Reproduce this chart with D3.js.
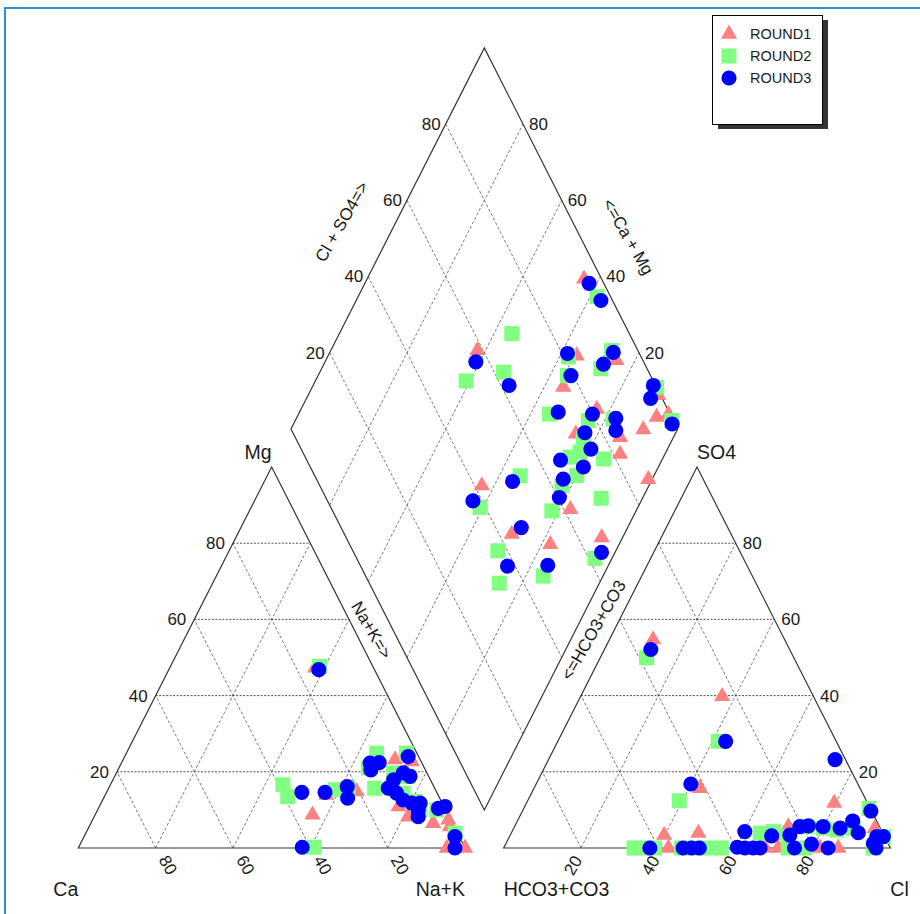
<!DOCTYPE html>
<html><head><meta charset="utf-8">
<script src="https://cdn.jsdelivr.net/npm/d3@7"></script>
<style>
body{margin:0;background:#fff}
svg{display:block}
text{font-family:"Liberation Sans",Arial,Helvetica,sans-serif;fill:#1a1a1a}
</style>
</head><body><svg id="c" width="920" height="914"></svg>
<script>
// ---------- DATA (percent values) ----------
const gridTicks = [20, 40, 60, 80];
const roundNames = ["ROUND1", "ROUND2", "ROUND3"];

// cation triangle: [Mg %, Na+K %]  (Ca = 100 - Mg - Na+K)
const cation1 = [[47.3,37.6],[8.7,56.2],[13.9,57.2],[14.8,64.6],[23.2,70.3],[22.7,74.9],[10.9,77.4],[8.2,81.2],[6.5,88.5],[7.4,92.0],[0,95.3],[0,100],[5.6,93.3],[15.7,73.6]];
const cation2 = [[47.7,38.5],[16.6,44.6],[13.5,47.4],[0.2,60.8],[15.3,58.8],[15.7,61.9],[24.9,64.7],[21.0,64.5],[15.7,68.8],[24.9,72.4],[18.8,75.9],[12.2,81.0],[10.0,83.4],[10.0,87.7],[3.9,95.5],[19.7,71.7],[14.4,76.8]];
const cation3 = [[46.8,38.8],[14.6,50.5],[14.6,56.5],[16.1,61.5],[13.1,63.1],[22.3,64.3],[22.4,66.6],[20.5,65.4],[24.0,73.3],[19.7,74.2],[18.8,76.4],[17.9,72.6],[15.7,72.3],[14.4,75.1],[12.6,77.7],[11.8,80.3],[11.8,82.5],[8.2,83.8],[10.0,82.9],[10.4,87.9],[10.9,89.4],[3.0,95.9],[0,97.4],[0.2,57.8]];

// anion triangle: [SO4 %, Cl %]  (HCO3+CO3 = 100 - SO4 - Cl)
const anion1 = [[54.7,11.3],[39.8,36.6],[15.7,42.9],[11.8,79.6],[3.4,39.8],[0,42.6],[3.9,48.4],[0,67.6],[0,71.0],[5.6,70.8],[0,81.8],[0,86.5],[5.2,93.4],[3.4,69.3]];
const anion2 = [[49.9,12.0],[28.0,41.5],[12.4,39.2],[0,33.7],[0,37.0],[0,39.0],[0,46.0],[0,49.5],[0,53.0],[0,56.3],[3.9,64.4],[4.3,67.6],[3.0,72.1],[0,73.6],[5.6,75.6],[0,77.9],[5.2,80.0],[4.7,83.8],[5.2,87.8],[10.4,89.3],[3.0,96.7],[0,95.6]];
const anion3 = [[52.1,12.0],[28.0,43.4],[23.2,74.1],[16.8,40.0],[9.7,90.1],[0,37.8],[0,46.4],[0,48.6],[0,50.6],[0.2,60.3],[0,62.4],[0,64.5],[0,66.3],[4.3,60.2],[3.2,67.7],[3.4,72.3],[0,75.2],[5.6,73.8],[5.8,75.9],[1.0,79.1],[5.6,79.8],[0,83.9],[5.2,84.4],[7.1,86.7],[4.0,89.7],[3.0,95.0],[3.0,96.7],[0,96.3],[1.2,95.0]];

// diamond: [Cl+SO4 %, Na+K %]
const diamond1 = [[95.5,56.1],[58.5,37.9],[83.5,64.3],[75.9,64.9],[93.2,75.2],[99.4,90.6],[99.5,95.7],[96.1,93.0],[91.0,91.2],[81.7,76.5],[84.0,86.2],[73.0,74.3],[81.8,88.4],[85.8,99.0],[41.9,56.8],[61.7,82.8],[43.3,70.9],[51.9,82.2],[66.1,94.6]];
const diamond2 = [[96.5,61.8],[69.6,44.6],[51.6,39.0],[62.4,47.5],[81.2,62.3],[78.5,64.5],[93.2,72.6],[88.0,72.2],[100,89.1],[99.6,97.4],[68.8,64.9],[78.0,75.8],[84.6,82.0],[74.3,76.9],[71.7,77.8],[68.5,75.9],[76.9,84.8],[67.8,80.0],[62.6,77.5],[56.7,78.2],[71.1,89.3],[53.1,65.4],[38.6,59.2],[37.5,69.5],[33.6,74.1],[45.9,84.5],[61.6,95.6]];
const diamond3 = [[96.2,58.0],[97.0,63.3],[56.6,39.0],[62.1,50.7],[81.4,61.6],[79.4,65.4],[93.4,73.3],[89.3,72.3],[99.4,88.0],[97.0,89.0],[99.2,97.9],[71.3,66.9],[79.9,76.0],[85.4,82.6],[83.8,84.2],[75.5,76.5],[74.9,80.2],[65.6,73.8],[70.6,80.6],[63.8,77.0],[60.4,78.4],[37.6,56.5],[50.4,64.2],[46.6,72.5],[38.0,74.0],[48.5,84.3],[64.1,96.5]];

// ---------- LAYOUT ----------
const svg = d3.select("#c");
// unit coords: triangle side = 1, gap = 0.1, vertical unit = triangle height
const x = d3.scaleLinear().domain([0, 2.1]).range([78.3, 78.3 + 2.1 * 386.7]);
const y = d3.scaleLinear().domain([0, 2.1]).range([848, 848 - 2.1 * 381]);
const P = (u, v) => [x(u), y(v)];
const cat = (mg, na) => P(na / 100 + mg / 200, mg / 100);
const ani = (so4, cl) => P(1.1 + cl / 100 + so4 / 200, so4 / 100);
const dia = (a, c) => P(0.55 + (a + c) / 200, 1.1 + (a - c) / 100);

// frame (top and left edges visible)
svg.append("path").attr("d", "M5,914 V8 H920")
  .attr("fill", "none").attr("stroke", "#2a93cf").attr("stroke-width", 2);

const gGrid = svg.append("g");
function gline(p1, p2, horiz) {
  gGrid.append("line").attr("x1", p1[0]).attr("y1", p1[1]).attr("x2", p2[0]).attr("y2", p2[1])
    .attr("stroke", horiz ? "#222" : "#444").attr("stroke-width", horiz ? 0.8 : 0.7)
    .attr("stroke-dasharray", horiz ? "2,1.5" : "3,2");
}
gridTicks.forEach(t => {
  const f = t / 100;
  // cation triangle
  gline(P(f / 2, f), P(1 - f / 2, f), true);               // Mg
  gline(P(1 - f, 0), P(0.5 * (1 - f), 1 - f), false);     // Ca
  gline(P(f, 0), P(f + 0.5 * (1 - f), 1 - f), false);      // Na+K
  // anion triangle
  gline(P(1.1 + f / 2, f), P(2.1 - f / 2, f), true);       // SO4
  gline(P(1.1 + f, 0), P(1.1 + f + 0.5 * (1 - f), 1 - f), false); // Cl
  gline(P(2.1 - f, 0), P(1.1 + 0.5 * (1 - f), 1 - f), false);     // HCO3
  // diamond
  gline(dia(t, 0), dia(t, 100), false);
  gline(dia(0, t), dia(100, t), false);
});

// outlines
const outl = svg.append("g").attr("fill", "none").attr("stroke", "#333").attr("stroke-width", 1.2);
const poly = pts => outl.append("polygon").attr("points", pts.map(p => p.join(",")).join(" "));
poly([P(0, 0), P(1, 0), P(0.5, 1)]);
poly([P(1.1, 0), P(2.1, 0), P(1.6, 1)]);
poly([dia(0, 0), dia(100, 0), dia(100, 100), dia(0, 100)]);

// tick labels
const gT = svg.append("g").style("font-size", "17px");
gridTicks.forEach(t => {
  const f = t / 100;
  let p = P(f / 2, f);
  gT.append("text").attr("x", p[0] - 8).attr("y", p[1]).attr("dy", "0.35em").attr("text-anchor", "end").text(t);
  p = P(2.1 - f / 2, f);
  gT.append("text").attr("x", p[0] + 7).attr("y", p[1]).attr("dy", "0.35em").attr("text-anchor", "start").text(t);
  p = P(1 - f, 0);
  gT.append("text").attr("transform", `translate(${p[0]},${p[1]}) rotate(60)`)
    .attr("x", 21).attr("y", -2.4).attr("dy", "0.35em").attr("text-anchor", "middle").text(t);
  p = P(1.1 + f, 0);
  gT.append("text").attr("transform", `translate(${p[0]},${p[1]}) rotate(-60)`)
    .attr("x", -19).attr("y", 1.6).attr("dy", "0.35em").attr("text-anchor", "middle").text(t);
  p = dia(t, 0);
  gT.append("text").attr("x", p[0] - 5).attr("y", p[1]).attr("dy", "0.35em").attr("text-anchor", "end").text(t);
  p = dia(100, 100 - t);
  gT.append("text").attr("x", p[0] + 6).attr("y", p[1]).attr("dy", "0.35em").attr("text-anchor", "start").text(t);
});

// axis names
const gA = svg.append("g").style("font-size", "19.5px");
const lab = (p, s, anchor, dx, dy) => gA.append("text").attr("x", p[0] + dx).attr("y", p[1] + dy)
  .attr("text-anchor", anchor).text(s);
lab(P(0.5, 1), "Mg", "end", 0, -8);
lab(P(1.6, 1), "SO4", "start", 0, -8);
lab(P(0, 0), "Ca", "end", 0, 48);
lab(P(1, 0), "Na+K", "end", 0, 48);
lab(P(1.1, 0), "HCO3+CO3", "start", 0, 48);
lab(P(2.1, 0), "Cl", "start", 0, 48);

const gR = svg.append("g").style("font-size", "17px");
const rlab = (cx, cy, ang, s) => gR.append("text").attr("transform", `translate(${cx},${cy}) rotate(${ang})`)
  .attr("text-anchor", "middle").attr("dy", "0.35em").text(s);
rlab(341.7, 221.7, -60, "Cl + SO4=>");
rlab(628.3, 236.7, 60, "<=Ca + Mg");
rlab(371.7, 630, 60, "Na+K=>");
rlab(593.3, 630, -60, "<=HCO3+CO3");

// ---------- MARKERS ----------
const styles = [
  { type: d3.symbolTriangle, size: 115, fill: "#ff8080" },
  { type: d3.symbolSquare, size: 225, fill: "#80ff80" },
  { type: d3.symbolCircle, size: 180, fill: "#0000ff" }
];
const rounds = [
  { cat: cation1, ani: anion1, dia: diamond1 },
  { cat: cation2, ani: anion2, dia: diamond2 },
  { cat: cation3, ani: anion3, dia: diamond3 }
];
rounds.forEach((r, i) => {
  const st = styles[i];
  const sym = d3.symbol().type(st.type).size(st.size);
  const pts = [
    ...r.cat.map(d => cat(d[0], d[1])),
    ...r.ani.map(d => ani(d[0], d[1])),
    ...r.dia.map(d => dia(d[0], d[1]))
  ];
  svg.append("g").selectAll("path").data(pts).join("path")
    .attr("d", sym).attr("transform", p => `translate(${p[0]},${p[1]})`)
    .attr("fill", st.fill);
});

// ---------- LEGEND ----------
const lg = svg.append("g");
lg.append("rect").attr("x", 718).attr("y", 20).attr("width", 110).attr("height", 109).attr("fill", "#333");
lg.append("rect").attr("x", 712.5).attr("y", 15.5).attr("width", 110).attr("height", 109)
  .attr("fill", "#fff").attr("stroke", "#000").attr("stroke-width", 1);
roundNames.forEach((nm, i) => {
  const st = styles[i];
  const yy = 34 + i * 22;
  lg.append("path").attr("d", d3.symbol().type(st.type).size(st.size)())
    .attr("transform", `translate(729,${yy})`).attr("fill", st.fill);
  lg.append("text").attr("x", 750).attr("y", yy).attr("dy", "0.35em")
    .style("font-size", "14.5px").text(nm);
});
</script>
</body></html>
